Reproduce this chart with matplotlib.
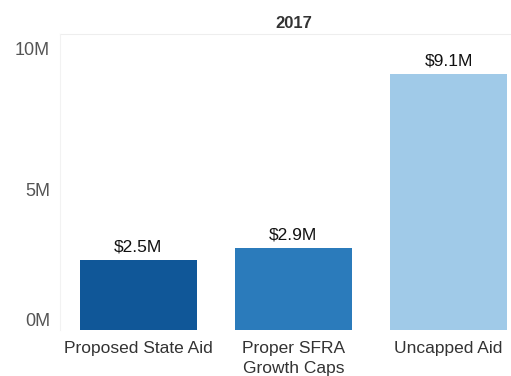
import matplotlib

matplotlib.use("Agg")
import matplotlib.pyplot as plt
from matplotlib.ticker import FuncFormatter
from matplotlib.transforms import ScaledTranslation

plt.rcParams["font.family"] = ["Liberation Sans", "DejaVu Sans"]

categories = ["Proposed State Aid", "Proper SFRA\nGrowth Caps", "Uncapped Aid"]
values_m = [2.5, 2.9, 9.1]
bar_labels = ["$2.5M", "$2.9M", "$9.1M"]
colors = ["#105798", "#2b7bbb", "#a0cae8"]
yticks_m = [0, 5, 10]

fig = plt.figure(figsize=(5.11, 3.76), dpi=100)
ax = fig.add_axes([0.117, 0.122, 0.883, 0.787])

x = range(len(categories))
bars = ax.bar(x, values_m, width=0.755, color=colors)
for bar, lab in zip(bars, bar_labels):
    ax.annotate(lab, (bar.get_x() + bar.get_width() / 2, bar.get_height()),
                xytext=(0, 4), textcoords="offset points",
                ha="center", va="bottom", fontsize=12.5, color="#111111")

ax.set_xlim(-0.506, 2.403)
ax.set_ylim(0, 10.5)
ax.set_yticks(yticks_m)
ax.yaxis.set_major_formatter(FuncFormatter(lambda v, _: f"{v:.0f}M"))
ax.set_xticks(list(x))
ax.set_xticklabels(categories, fontsize=12.5, color="#333333", linespacing=1.4)
ax.tick_params(axis="y", length=0, pad=7, labelsize=13, labelcolor="#555555")
ax.tick_params(axis="x", length=0, pad=8)

# lift the baseline label a little off the bottom edge
zero_label = ax.get_yticklabels()[0]
zero_label.set_transform(zero_label.get_transform() + ScaledTranslation(0, 0.11, fig.dpi_scale_trans))

for side in ("top", "right", "bottom"):
    ax.spines[side].set_visible(False)
ax.spines["left"].set_color("#f2f2f2")
ax.axhline(10.5, color="#eeeeee", lw=0.8, clip_on=False)

fig.text(0.574, 0.937, "2017", ha="center", va="center",
         fontsize=12, fontweight="bold", color="#333333")

fig.savefig("out.png", dpi=100)
